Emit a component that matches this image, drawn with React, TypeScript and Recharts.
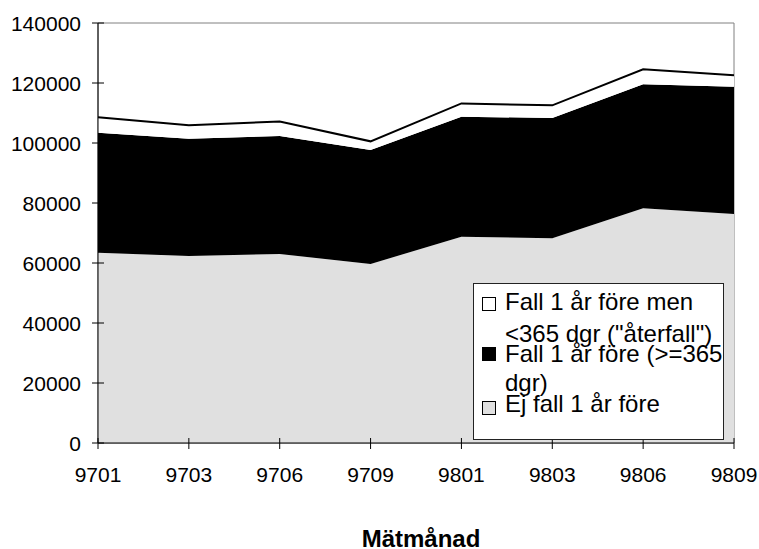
import React from "react"
import { AreaChart, Area, XAxis, YAxis, Legend, ReferenceArea } from "recharts"

// Mätmånad (YYMM)
const months = ["9701", "9703", "9706", "9709", "9801", "9803", "9806", "9809"]

// stacked series, bottom to top
const ejFall = [63450, 62330, 63000, 59670, 68780, 68220, 78220, 76330]
const fallOver365 = [40000, 39120, 39330, 38000, 40000, 40110, 41330, 42450]
const aterfall = [5120, 4450, 4870, 2880, 4420, 4220, 5000, 3770]

const yTicks = [0, 20000, 40000, 60000, 80000, 100000, 120000, 140000]

const data = months.map((m, i) => ({
  month: m,
  ejFall: ejFall[i],
  fallOver365: fallOver365[i],
  aterfall: aterfall[i],
}))

const FONT = "'Liberation Sans', Arial, sans-serif"

// legend text lines as in the original (top series first)
const legendItems = [
  { key: "aterfall", lines: ["Fall 1 år före men", "<365 dgr (\"återfall\")"], fill: "#fff", marker: 14, tops: [7, 39] },
  { key: "fallOver365", lines: ["Fall 1 år före (>=365", "dgr)"], fill: "#000", marker: 64, tops: [59, 88] },
  { key: "ejFall", lines: ["Ej fall 1 år före"], fill: "#e0e0e0", marker: 118, tops: [109] },
]

const YTick = (props: any) => {
  const { x, y, payload } = props
  return (
    <g>
      <line x1={x - 6} x2={x + 6} y1={y} y2={y} stroke="#000" />
      <text x={x - 17} y={y} dy="0.36em" textAnchor="end" fontSize={21} fontFamily={FONT} fill="#000">
        {payload.value}
      </text>
    </g>
  )
}

const XTick = (props: any) => {
  const { x, y, payload } = props
  return (
    <g>
      <line x1={x} x2={x} y1={y - 5} y2={y + 6} stroke="#000" />
      <text x={x} y={y + 39} textAnchor="middle" fontSize={21} fontFamily={FONT} fill="#000">
        {payload.value}
      </text>
    </g>
  )
}

const renderLegend = () => (
  <div
    style={{
      position: "relative",
      width: 251,
      height: 157,
      border: "1px solid #222",
      background: "#fff",
      boxSizing: "border-box",
      fontFamily: FONT,
      fontSize: 24,
      color: "#000",
    }}
  >
    {legendItems.map((it) => (
      <React.Fragment key={it.key}>
        <div
          style={{
            position: "absolute",
            left: 8,
            top: it.marker - 1,
            width: 12,
            height: 12,
            background: it.fill,
            border: "1px solid #000",
          }}
        />
        {it.lines.map((ln, j) => (
          <div
            key={j}
            style={{ position: "absolute", left: 31, top: it.tops[j] - 1, lineHeight: "24px", whiteSpace: "nowrap" }}
          >
            {ln}
          </div>
        ))}
      </React.Fragment>
    ))}
  </div>
)

export default function App() {
  return (
    <div style={{ position: "absolute", left: 0, top: 0, background: "#fff" }}>
      <AreaChart width={759} height={549} data={data} margin={{ top: 23, right: 25, left: 0, bottom: 0 }}>
        <ReferenceArea x1="9701" x2="9809" y1={0} y2={140000} fill="none" stroke="#808080" />
        <XAxis
          dataKey="month"
          height={106}
          tickSize={0}
          tickMargin={0}
          tickLine={false}
          axisLine={{ stroke: "#000" }}
          tick={<XTick />}
          interval={0}
          label={{
            value: "Mätmånad",
            position: "insideBottom",
            offset: 2,
            dx: 5,
            style: { fontFamily: FONT, fontSize: 24, fontWeight: "bold", fill: "#000" },
          }}
        />
        <YAxis
          width={98}
          domain={[0, 140000]}
          ticks={yTicks}
          tickSize={0}
          tickMargin={0}
          tickLine={false}
          axisLine={{ stroke: "#000" }}
          tick={<YTick />}
          interval={0}
        />
        <Area dataKey="ejFall" stackId="1" type="linear" fill="#e0e0e0" fillOpacity={1} stroke="none" isAnimationActive={false} />
        <Area dataKey="fallOver365" stackId="1" type="linear" fill="#000" fillOpacity={1} stroke="none" isAnimationActive={false} />
        <Area dataKey="aterfall" stackId="1" type="linear" fill="#fff" fillOpacity={1} stroke="#000" strokeWidth={2} isAnimationActive={false} />
        <Legend
          layout="vertical"
          align="center"
          verticalAlign="middle"
          content={renderLegend}
          wrapperStyle={{ left: 473, top: 283, width: 251, height: 157 }}
        />
      </AreaChart>
    </div>
  )
}
